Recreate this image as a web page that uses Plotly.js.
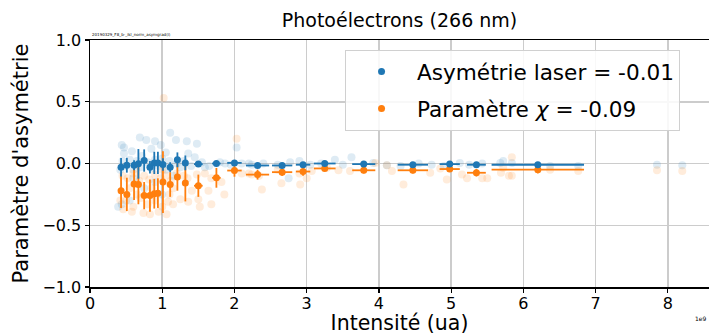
<!DOCTYPE html>
<html><head><meta charset="utf-8">
<script src="https://cdn.plot.ly/plotly-3.0.1.min.js"></script>
<style>body{margin:0;background:#fff}#chart{width:709px;height:335px}</style>
</head><body><div id="chart"></div>
<script>
// Binned values (intensity in units of 1e9)
const binX = [0.43,0.51,0.61,0.67,0.75,0.83,0.89,0.94,1.01,1.11,1.21,1.32,1.50,1.75,2.00,2.32,2.66,2.95,3.25,3.79,4.47,4.98,5.35,6.20];
const binErrX = [0.01,0.01,0.01,0.01,0.01,0.01,0.01,0.01,0.01,0.02,0.02,0.03,0.06,0.06,0.10,0.16,0.14,0.10,0.15,0.16,0.21,0.14,0.13,0.64];
const asymY = [-0.03,-0.014,-0.014,-0.003,0.024,-0.03,0.005,0.005,-0.008,-0.03,0.03,0.005,-0.005,0.0,0.005,-0.016,-0.016,-0.01,0.0,-0.005,-0.01,-0.005,-0.01,-0.01];
const asymErrY = [0.075,0.06,0.04,0.12,0.09,0.05,0.09,0.09,0.05,0.04,0.06,0.06,0.02,0.015,0.015,0.015,0.015,0.015,0.01,0.01,0.01,0.01,0.01,0.01];
const chiY = [-0.22,-0.25,-0.165,-0.17,-0.26,-0.26,-0.245,-0.24,-0.15,-0.17,-0.11,-0.157,-0.18,-0.116,-0.057,-0.09,-0.07,-0.065,-0.04,-0.055,-0.055,-0.045,-0.075,-0.05];
const chiErrY = [0.14,0.135,0.13,0.16,0.11,0.13,0.12,0.12,0.25,0.10,0.11,0.15,0.09,0.08,0.05,0.04,0.03,0.035,0.02,0.025,0.025,0.02,0.03,0.03];

// Raw (faint) measurements
const rawAsymX = [0.39,0.44,0.44,0.47,0.69,0.78,0.90,1.11,1.19,1.34,1.36,1.45,2.03,1.87,1.59,2.10,2.20,2.77,3.62,3.39,2.75,2.24,2.40,3.05,3.50,3.20,3.92,4.11,4.73,5.12,5.72,5.84,5.68,5.43,6.37,6.76,7.85,8.20,
  0.50,0.55,0.60,0.65,0.70,0.80,0.85,0.90,0.95,1.00,1.05,1.10,1.15,1.20,1.25,1.30,1.40,1.55,1.65,1.80,1.95,0.60,0.75,0.90,1.00,0.55,0.47,0.58,0.72,0.85,0.98,1.05,0.42,0.45,4.30,4.55,4.90,5.25,1.48,2.60,2.90];
const rawAsymY = [-0.35,-0.33,0.15,0.13,0.21,0.19,0.18,0.25,0.19,0.18,0.08,0.05,0.13,0.0,-0.03,0.0,0.0,0.01,0.05,0.03,-0.12,-0.01,0.0,-0.01,-0.01,0.0,0.005,-0.015,-0.01,0.005,0.02,0.005,0.005,0.0,-0.02,-0.02,-0.01,-0.015,
  -0.02,0.03,-0.05,0.02,-0.03,0.01,-0.04,0.03,-0.02,0.04,-0.05,0.02,-0.10,0.0,-0.03,0.02,-0.02,0.01,-0.02,0.01,-0.01,-0.12,-0.20,-0.15,-0.25,-0.30,0.08,0.10,0.06,0.12,0.15,0.09,-0.05,0.02,-0.02,0.0,-0.02,-0.01,0.16,-0.01,0.02];
const rawChiX = [1.02,2.03,0.46,0.58,0.74,0.83,0.95,1.06,1.15,1.08,1.25,1.36,1.52,1.68,1.86,1.50,1.64,1.41,1.82,2.10,2.20,1.59,1.48,1.68,2.38,2.65,2.91,3.00,3.07,3.28,3.44,3.60,2.24,2.34,4.11,4.34,4.71,4.94,5.15,5.22,3.95,4.18,4.85,5.84,5.84,5.80,5.69,5.43,5.50,6.37,6.76,7.85,8.20,5.72,
  0.45,0.52,0.60,0.68,0.75,0.82,0.90,0.98,1.05,1.12,1.20,1.30,0.50,0.60,0.70,0.80,0.90,1.00,1.10,0.42,0.55,0.65,0.85,1.15,1.35,1.00,2.60,2.90];
const rawChiY = [0.53,0.20,-0.37,-0.39,-0.40,-0.41,-0.39,-0.41,-0.33,-0.31,-0.29,-0.31,-0.35,-0.33,-0.25,-0.29,-0.22,-0.22,-0.15,-0.08,-0.08,-0.08,-0.09,-0.12,-0.21,-0.16,-0.17,-0.12,-0.06,-0.035,-0.055,-0.06,-0.09,-0.10,-0.015,-0.17,-0.075,-0.13,-0.09,-0.12,0.005,-0.06,-0.04,0.05,-0.10,-0.10,-0.075,-0.12,-0.12,-0.05,-0.06,-0.055,-0.06,-0.035,
  -0.10,-0.12,-0.08,-0.14,-0.10,-0.13,-0.09,-0.12,-0.10,-0.14,-0.08,-0.10,-0.30,-0.35,-0.28,-0.33,-0.30,-0.35,-0.25,-0.30,-0.20,-0.25,-0.20,-0.20,-0.12,-0.05,-0.05,-0.08];

const seriesNames = ["Asymétrie laser = -0.01", "Paramètre <i>χ</i> = -0.09"];
const blue = "#1f77b4", orange = "#ff7f0e";
const font = "DejaVu Sans, sans-serif";

const traces = [
  {x: rawAsymX, y: rawAsymY, mode: "markers", type: "scatter", showlegend: false, hoverinfo: "skip",
   marker: {color: "rgba(31,119,180,0.15)", size: 8}},
  {x: rawChiX, y: rawChiY, mode: "markers", type: "scatter", showlegend: false, hoverinfo: "skip",
   marker: {color: "rgba(255,127,14,0.15)", size: 8}},
  {x: binX, y: chiY, mode: "markers", type: "scatter", showlegend: false,
   marker: {color: orange, size: 7},
   error_y: {type: "data", array: chiErrY, color: orange, thickness: 1.8, width: 0},
   error_x: {type: "data", array: binErrX, color: orange, thickness: 1.8, width: 0}},
  {x: binX, y: asymY, mode: "markers", type: "scatter", showlegend: false,
   marker: {color: blue, size: 7},
   error_y: {type: "data", array: asymErrY, color: blue, thickness: 1.8, width: 0},
   error_x: {type: "data", array: binErrX, color: blue, thickness: 1.8, width: 0}},
  {x: [null], y: [null], mode: "markers", type: "scatter", name: seriesNames[0], legendgroup: "a",
   marker: {color: blue, size: 7}},
  {x: [null], y: [null], mode: "markers", type: "scatter", name: seriesNames[1], legendgroup: "b",
   marker: {color: orange, size: 7}}
];

const axisCommon = {
  showgrid: true, gridcolor: "#cccccc", gridwidth: 1.5, zeroline: false,
  showline: true, linecolor: "#000", linewidth: 1.5, mirror: true,
  ticks: "outside", ticklen: 4, tickwidth: 1.2, tickcolor: "#000",
  tickfont: {family: font, size: 16, color: "#000"}
};

const layout = {
  width: 709, height: 335,
  margin: {l: 90, r: 0, t: 40, b: 48},
  paper_bgcolor: "#fff", plot_bgcolor: "#fff",
  title: {text: "Photoélectrons (266 nm)", font: {family: font, size: 19, color: "#000"},
          x: 0.5635, xanchor: "center", y: 0.94, yanchor: "middle"},
  xaxis: Object.assign({}, axisCommon, {range: [0, 8.57], dtick: 1, tick0: 0, ticklabelstandoff: -3,
          title: {text: "Intensité (ua)", font: {family: font, size: 20.5, color: "#000"}, standoff: 5}}),
  yaxis: Object.assign({}, axisCommon, {range: [-1, 1], dtick: 0.5, tick0: 0, tickformat: ".1f",
          title: {text: "Paramètre d'asymétrie", font: {family: font, size: 21, color: "#000"}, standoff: 8}}),
  legend: {x: 0.412, y: 0.9595, xanchor: "left", yanchor: "top",
           bgcolor: "rgba(255,255,255,0.85)", bordercolor: "#d0d0d0", borderwidth: 1,
           font: {family: font, size: 21.6, color: "#000"}, tracegroupgap: 6, itemwidth: 61,
           entrywidth: 340, entrywidthmode: "pixels"},
  annotations: [
    {text: "20190329_F8_b-_ikl_norm_asymgrad(i)", xref: "paper", yref: "paper", x: 0, y: 1.005,
     xanchor: "left", yanchor: "bottom", showarrow: false, font: {family: font, size: 4, color: "#000"}},
    {text: "1e9", xref: "paper", yref: "paper", x: 1, y: -0.105, xanchor: "right", yanchor: "top",
     showarrow: false, font: {family: font, size: 6, color: "#000"}}
  ]
};

Plotly.newPlot("chart", traces, layout, {displayModeBar: false, staticPlot: true});
</script>
</body></html>
